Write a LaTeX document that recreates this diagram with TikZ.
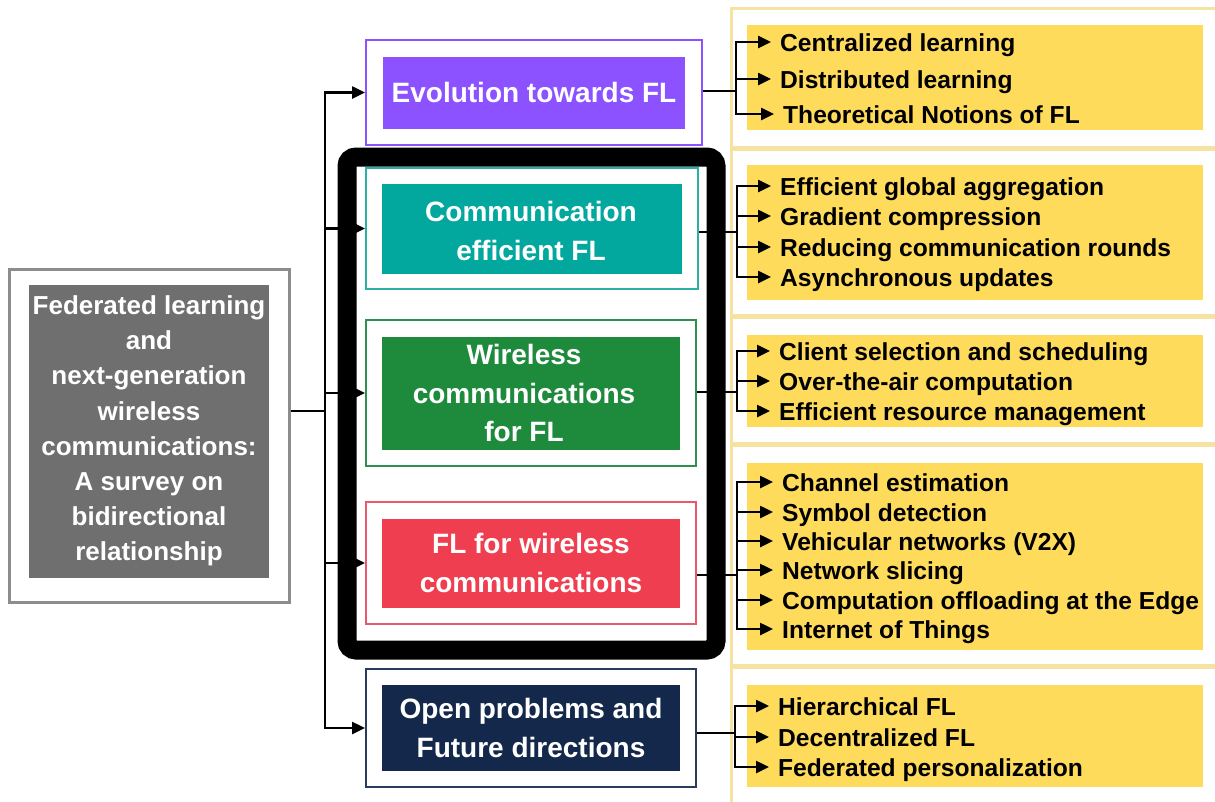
\documentclass[tikz,border=0pt]{standalone}
\usepackage{fontspec}
\setmainfont{Liberation Sans}
\usetikzlibrary{arrows.meta}

\definecolor{rootgray}{HTML}{6F6F6F}
\definecolor{rootrim}{HTML}{8C8C8C}
\definecolor{evolc}{HTML}{8C52FF}
\definecolor{commc}{HTML}{02A89E}
\definecolor{commrim}{HTML}{2BB0A5}
\definecolor{wirec}{HTML}{1E8A3C}
\definecolor{wirerim}{HTML}{2E8F4E}
\definecolor{flwc}{HTML}{EF3E4F}
\definecolor{flwrim}{HTML}{E8596B}
\definecolor{openc}{HTML}{14284B}
\definecolor{openrim}{HTML}{2A3C5E}
\definecolor{panelfill}{HTML}{FFDB5C}
\definecolor{panelrim}{HTML}{F7E3A1}

\begin{document}
\begin{tikzpicture}[x=1pt,y=-1pt,>={Triangle[length=13pt,width=12pt]},
    link/.style={line width=2.5pt},
    outerbox/.style={draw=#1,line width=2pt,inner sep=0pt,minimum width=330pt},
    innerbox/.style={fill=#1,text=white,inner sep=0pt,minimum width=298pt,
                     align=center,font=\bfseries\fontsize{28}{38.5}\selectfont},
    boxlabel/.style={text=white,align=center,font=\bfseries\fontsize{28}{38.5}\selectfont},
    panel/.style={draw=panelrim,line width=3pt,fill=white},
    item/.style={anchor=west,inner xsep=9pt,inner ysep=0pt,text height=18pt,
                 text depth=0pt,font=\bfseries\fontsize{24.6}{30}\selectfont}]

  \useasboundingbox (0,0) rectangle (1215,801);

  % survey title
  \node[draw=rootrim, line width=3pt, minimum width=280pt, minimum height=333pt] (root) at (149,435.5) {};
  \node[fill=rootgray, text=white, minimum width=240pt, minimum height=293pt, align=center,
        font=\bfseries\fontsize{26}{35.2}\selectfont] (roottxt) at (149,431)
        {Federated learning\\and\\next-generation\\wireless\\communications:\\A survey on\\bidirectional\\relationship};

  % main topics
  \node[outerbox=evolc, minimum width=336pt, minimum height=105pt] (evol) at (534,92.5) {};
  \node[innerbox=evolc, minimum width=302pt, minimum height=72pt] (evoltxt) at (evol) {Evolution towards FL};

  \node[outerbox=commrim, minimum width=332pt, minimum height=121pt] (comm) at (532,228.5) {};
  \node[innerbox=commc, minimum width=300pt, minimum height=90pt] (commtxt) at (comm) {};
  \node[boxlabel] (commlbl) at (531,231) {Communication\\efficient FL};

  \node[outerbox=wirerim, minimum height=146pt] (wire) at (531,393) {};
  \node[innerbox=wirec, minimum height=113pt] (wiretxt) at (wire) {};
  \node[boxlabel] (wirelbl) at (524,393) {Wireless\\communications\\for FL};

  \node[outerbox=flwrim, minimum height=122pt] (flw) at (531,563) {};
  \node[innerbox=flwc, minimum height=89pt] (flwtxt) at (flw) {FL for wireless\\communications};

  \node[outerbox=openrim, minimum height=118pt] (open) at (531,728) {};
  \node[innerbox=openc, minimum height=86pt] (opentxt) at (open) {Open problems and\\Future directions};

  % yellow panels
  \draw[panel] (731,8) rectangle (1222,147);
  \fill[panelfill] (747,25) rectangle (1203,130);
  \draw[panel] (731,149) rectangle (1222,315);
  \fill[panelfill] (747,165) rectangle (1203,300);
  \draw[panel] (731,317) rectangle (1222,443);
  \fill[panelfill] (747,335) rectangle (1203,427);
  \draw[panel] (731,445) rectangle (1222,665);
  \fill[panelfill] (747,463) rectangle (1203,650);
  \draw[panel] (731,667) rectangle (1222,808);
  \fill[panelfill] (747,685) rectangle (1203,787);

  % sub topics
  \node[item] (cl) at (771,42)  {Centralized learning};
  \node[item] (dl) at (771,79)  {Distributed learning};
  \node[item] (tn) at (774,114) {Theoretical Notions of FL};

  \node[item] (ga) at (771,186) {Efficient global aggregation};
  \node[item] (gc) at (771,216) {Gradient compression};
  \node[item] (rc) at (771,247) {Reducing communication rounds};
  \node[item] (au) at (771,277) {Asynchronous updates};

  \node[item] (cs) at (770,351) {Client selection and scheduling};
  \node[item] (oa) at (770,381) {Over-the-air computation};
  \node[item] (rm) at (770,411) {Efficient resource management};

  \node[item] (ce) at (773,482) {Channel estimation};
  \node[item] (sd) at (773,512) {Symbol detection};
  \node[item] (vn) at (773,541) {Vehicular networks (V2X)};
  \node[item] (ns) at (773,570) {Network slicing};
  \node[item] (co) at (773,600) {Computation offloading at the Edge};
  \node[item] (it) at (773,629) {Internet of Things};

  \node[item] (hf) at (769,706) {Hierarchical FL};
  \node[item] (df) at (769,737) {Decentralized FL};
  \node[item] (fp) at (769,767) {Federated personalization};

  % trunk from the title
  \coordinate (hub) at (325,411);
  \draw[link] (root.east |- hub) -- (hub);
  \draw[link,line cap=rect] (hub |- evol.west) -- (hub |- open.west);
  \path[link,->] (hub |- evol.west) edge (evol.west)
                 (hub |- comm.west) edge (comm.west)
                 (hub |- wire.west) edge (wire.west)
                 (hub |- flw.west)  edge (flw.west)
                 (hub |- open.west) edge (open.west);

  % brackets to the panels
  \coordinate (b1) at (736,91);
  \coordinate (b2) at (737,232);
  \coordinate (b3) at (737,392);
  \coordinate (b4) at (737,575);
  \coordinate (b5) at (735,733);

  \draw[link] (evol.east |- b1) -- (b1);
  \draw[link,line cap=rect] (b1 |- cl) -- (b1 |- tn);
  \path[link,->] (b1 |- cl) edge (cl.west)
                 (b1 |- dl) edge (dl.west)
                 (b1 |- tn) edge (tn.west);

  \draw[link] (comm.east |- b2) -- (b2);
  \draw[link,line cap=rect] (b2 |- ga) -- (b2 |- au);
  \path[link,->] (b2 |- ga) edge (ga.west)
                 (b2 |- gc) edge (gc.west)
                 (b2 |- rc) edge (rc.west)
                 (b2 |- au) edge (au.west);

  \draw[link] (wire.east |- b3) -- (b3);
  \draw[link,line cap=rect] (b3 |- cs) -- (b3 |- rm);
  \path[link,->] (b3 |- cs) edge (cs.west)
                 (b3 |- oa) edge (oa.west)
                 (b3 |- rm) edge (rm.west);

  \draw[link] (flw.east |- b4) -- (b4);
  \draw[link,line cap=rect] (b4 |- ce) -- (b4 |- it);
  \path[link,->] (b4 |- ce) edge (ce.west)
                 (b4 |- sd) edge (sd.west)
                 (b4 |- vn) edge (vn.west)
                 (b4 |- ns) edge (ns.west)
                 (b4 |- co) edge (co.west)
                 (b4 |- it) edge (it.west);

  \draw[link] (open.east |- b5) -- (b5);
  \draw[link,line cap=rect] (b5 |- hf) -- (b5 |- fp);
  \path[link,->] (b5 |- hf) edge (hf.west)
                 (b5 |- df) edge (df.west)
                 (b5 |- fp) edge (fp.west);

  % thick frame round the core topics
  \draw[line width=19pt, rounded corners=9pt] (347,157) rectangle (716,650);
\end{tikzpicture}
\end{document}
